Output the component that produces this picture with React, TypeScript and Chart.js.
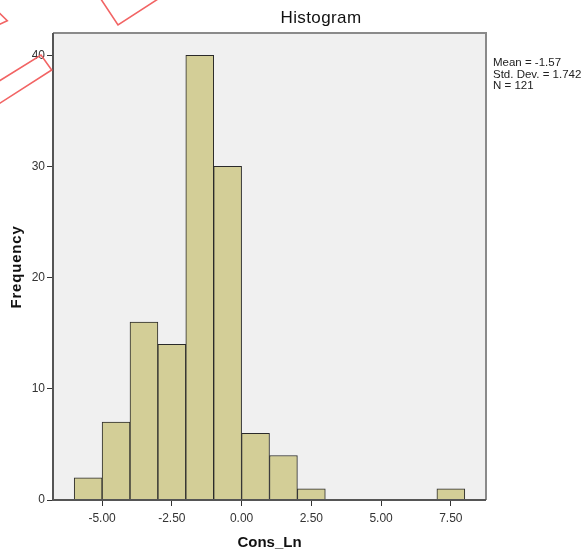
import React, { useEffect, useRef } from "react";
import { Chart, registerables } from "chart.js";

Chart.register(...registerables);

// ---- data ----
const binStarts = [-6, -5, -4, -3, -2, -1, 0, 1, 2, 7];
const frequencies = [2, 7, 16, 14, 40, 30, 6, 4, 1, 1];
const binWidth = 1;
const xTickValues = [-5, -2.5, 0, 2.5, 5, 7.5];
const yTickValues = [0, 10, 20, 30, 40];
const chartTitle = "Histogram";
const xAxisTitle = "Cons_Ln";
const yAxisTitle = "Frequency";
const statsLines = ["Mean = -1.57", "Std. Dev. = 1.742", "N = 121"];

// decorative red stamp outlines (canvas pixel polylines)
const stampPaths: number[][][] = [
  [[-14.6, -0.7], [7.3, 20.7], [-14.6, 31.3]],
  [[85, -25], [118, 25], [195, -25]],
  [[-20, 93], [41, 55], [51.7, 70], [-20, 116]],
];

const FONT = "'Liberation Sans', Arial, sans-serif";

export default function App() {
  const ref = useRef<HTMLCanvasElement | null>(null);

  useEffect(() => {
    if (!ref.current) return;
    const data = binStarts.map((s, i) => ({ x: s + binWidth / 2, y: frequencies[i] }));

    const decor = {
      id: "decor",
      beforeDraw(chart: any) {
        const { ctx, chartArea: a } = chart;
        ctx.save();
        ctx.fillStyle = "#ffffff";
        ctx.fillRect(0, 0, chart.width, chart.height);
        ctx.fillStyle = "#F0F0F0";
        ctx.fillRect(a.left, a.top, a.right - a.left, a.bottom - a.top);
        ctx.restore();
      },
      afterDraw(chart: any) {
        const { ctx, chartArea: a } = chart;
        ctx.save();
        // frame
        ctx.lineWidth = 2;
        ctx.strokeStyle = "#8a8a8a";
        ctx.beginPath();
        ctx.moveTo(a.left, a.top);
        ctx.lineTo(a.right, a.top);
        ctx.lineTo(a.right, a.bottom);
        ctx.stroke();
        ctx.strokeStyle = "#555555";
        ctx.beginPath();
        ctx.moveTo(a.left, a.top);
        ctx.lineTo(a.left, a.bottom);
        ctx.lineTo(a.right, a.bottom);
        ctx.stroke();

        // texts
        ctx.fillStyle = "#111";
        ctx.textAlign = "center";
        ctx.textBaseline = "middle";
        ctx.font = `17px ${FONT}`;
        (ctx as any).letterSpacing = "0.4px";
        ctx.fillText(chartTitle, 321, 18);
        ctx.font = `bold 15px ${FONT}`;
        (ctx as any).letterSpacing = "0px";
        ctx.fillText(xAxisTitle, (a.left + a.right) / 2, 543);
        ctx.save();
        ctx.translate(17, 267);
        ctx.rotate(-Math.PI / 2);
        ctx.font = `bold 15px ${FONT}`;
        (ctx as any).letterSpacing = "0.8px";
        ctx.fillText(yAxisTitle, 0, 0);
        ctx.restore();
        (ctx as any).letterSpacing = "0px";

        ctx.textAlign = "left";
        ctx.font = `11.5px ${FONT}`;
        ctx.fillStyle = "#222";
        statsLines.forEach((t, i) => ctx.fillText(t, 493, 63 + i * 11.5));

        // red stamp outlines
        ctx.strokeStyle = "#F26464";
        ctx.lineWidth = 1.6;
        stampPaths.forEach((p) => {
          ctx.beginPath();
          p.forEach(([x, y], i) => (i ? ctx.lineTo(x, y) : ctx.moveTo(x, y)));
          ctx.stroke();
        });
        ctx.restore();
      },
    };

    const chart = new Chart(ref.current, {
      type: "bar",
      data: {
        datasets: [
          {
            data,
            backgroundColor: "#D3CE97",
            borderColor: "#2a2a2a",
            borderWidth: 1,
            barPercentage: 1,
            categoryPercentage: 1,
          },
        ],
      },
      options: {
        animation: false,
        responsive: false,
        devicePixelRatio: 1,
        layout: { padding: { top: 33, right: 96, left: 0, bottom: 0 } },
        plugins: { legend: { display: false }, tooltip: { enabled: false }, title: { display: false } },
        scales: {
          x: {
            type: "linear",
            min: -6.76,
            max: 8.76,
            offset: false,
            afterBuildTicks: (s: any) => {
              s.ticks = xTickValues.map((v) => ({ value: v }));
            },
            afterFit: (s: any) => {
              s.height = 56;
            },
            grid: { offset: false, drawOnChartArea: false, drawTicks: true, tickLength: 6, tickColor: "#333", tickWidth: 1 },
            border: { display: false },
            ticks: {
              autoSkip: false,
              maxRotation: 0,
              padding: 5,
              color: "#333",
              font: { family: FONT, size: 12 },
              callback: (v: any) => Number(v).toFixed(2),
            },
          },
          y: {
            type: "linear",
            min: 0,
            max: 42,
            afterBuildTicks: (s: any) => {
              s.ticks = yTickValues.map((v) => ({ value: v }));
            },
            afterFit: (s: any) => {
              s.width = 53;
            },
            grid: { drawOnChartArea: false, drawTicks: true, tickLength: 6, tickColor: "#333", tickWidth: 1 },
            border: { display: false },
            ticks: {
              padding: 2,
              color: "#333",
              font: { family: FONT, size: 12 },
            },
          },
        },
      },
      plugins: [decor],
    } as any);
    return () => chart.destroy();
  }, []);

  return (
    <div style={{ position: "absolute", left: 0, top: 0, width: 582, height: 556 }}>
      <canvas ref={ref} width={582} height={556} style={{ display: "block" }} />
    </div>
  );
}
